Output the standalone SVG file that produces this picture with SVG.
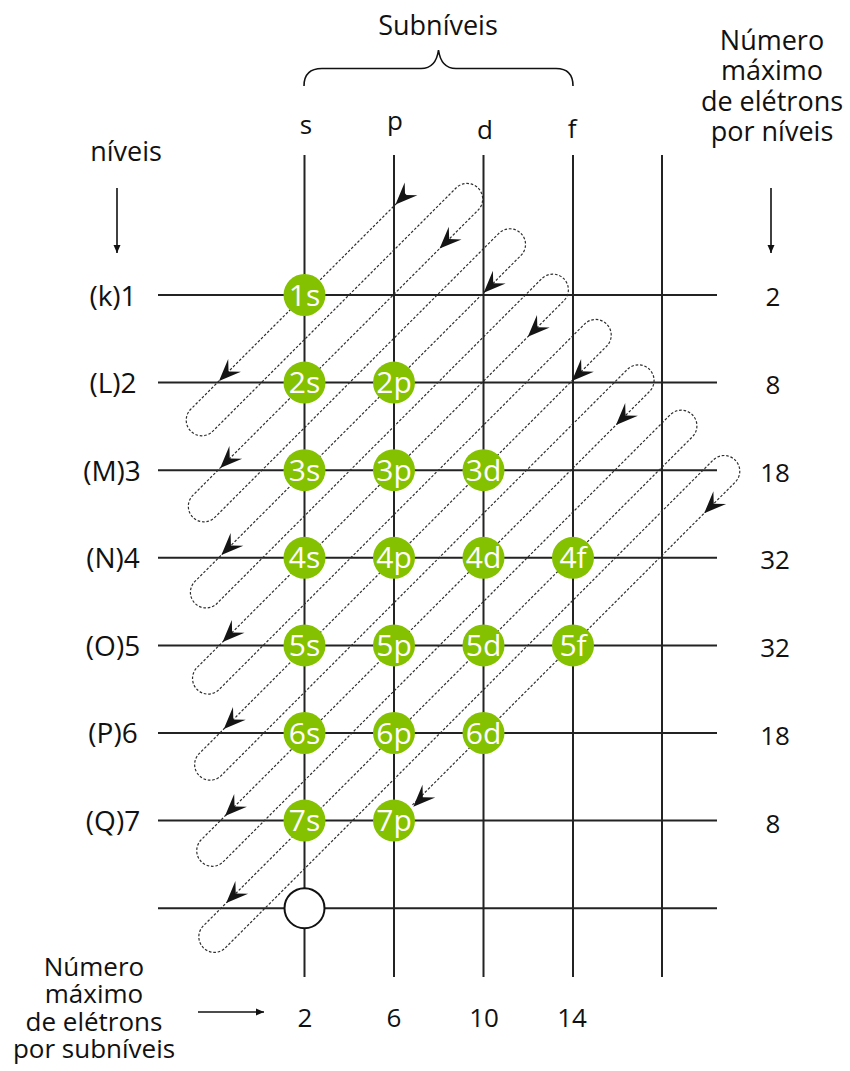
<svg xmlns="http://www.w3.org/2000/svg" width="850" height="1071" viewBox="0 0 850 1071">
<style>
.grid{stroke:#232323;stroke-width:2;fill:none}
.dash{stroke:#2e2e2e;stroke-width:1.2;fill:none;stroke-dasharray:2.6 1.8}
.orb{fill:#84c100}
.ol{font-family:'Open Sans','DejaVu Sans',sans-serif;font-size:30px;fill:#fff;text-anchor:middle}
.t{font-family:'Open Sans','DejaVu Sans',sans-serif;font-size:26px;fill:#111;text-anchor:middle}
.rl{font-size:28px}
.ax{stroke:#111;stroke-width:1.6;fill:none}
</style>
<defs>
<path id="ah" d="M0,0 L-22,-9 L-13.5,0 L-22,9 Z" fill="#151515"/>
<marker id="sm" markerWidth="10" markerHeight="10" refX="8" refY="4" orient="auto" markerUnits="userSpaceOnUse">
<path d="M0,0.5 L8,4 L0,7.5 Z" fill="#111"/>
</marker>
</defs>
<g id="grid">
<line class="grid" x1="158" y1="295" x2="717" y2="295"/>
<line class="grid" x1="158" y1="382.6" x2="717" y2="382.6"/>
<line class="grid" x1="158" y1="470.2" x2="717" y2="470.2"/>
<line class="grid" x1="158" y1="557.8" x2="717" y2="557.8"/>
<line class="grid" x1="158" y1="645.4" x2="717" y2="645.4"/>
<line class="grid" x1="158" y1="733" x2="717" y2="733"/>
<line class="grid" x1="158" y1="820.6" x2="717" y2="820.6"/>
<line class="grid" x1="158" y1="908.2" x2="717" y2="908.2"/>
<line class="grid" x1="304.5" y1="155" x2="304.5" y2="977"/>
<line class="grid" x1="394" y1="155" x2="394" y2="977"/>
<line class="grid" x1="483.5" y1="155" x2="483.5" y2="977"/>
<line class="grid" x1="573" y1="155" x2="573" y2="977"/>
<line class="grid" x1="662" y1="155" x2="662" y2="977"/>
</g>
<g id="connectors">
<path class="dash" d="M406,194 L190,410 A15.6,15.6 0 0 0 212,432 L456,188 A15.6,15.6 0 0 1 478.1,210.1 L192.1,496.1 A15.6,15.6 0 0 0 214.1,518.1 L498.85,233.35 A15.6,15.6 0 0 1 520.95,255.45 L194.2,582.2 A15.6,15.6 0 0 0 216.2,604.2 L541.7,278.7 A15.6,15.6 0 0 1 563.8,300.8 L196.3,668.3 A15.6,15.6 0 0 0 218.3,690.3 L584.55,324.05 A15.6,15.6 0 0 1 606.65,346.15 L198.4,754.4 A15.6,15.6 0 0 0 220.4,776.4 L627.4,369.4 A15.6,15.6 0 0 1 649.5,391.5 L200.5,840.5 A15.6,15.6 0 0 0 222.5,862.5 L670.25,414.75 A15.6,15.6 0 0 1 692.35,436.85 L202.6,926.6 A15.6,15.6 0 0 0 224.6,948.6 L713.1,460.1 A15.6,15.6 0 0 1 735.2,482.2 L412.2,805.2"/>
<use href="#ah" transform="translate(395.5,204.5) rotate(135)"/>
<use href="#ah" transform="translate(439.6,248.6) rotate(135)"/>
<use href="#ah" transform="translate(483.7,292.7) rotate(135)"/>
<use href="#ah" transform="translate(527.8,336.8) rotate(135)"/>
<use href="#ah" transform="translate(571.9,380.9) rotate(135)"/>
<use href="#ah" transform="translate(616,425) rotate(135)"/>
<use href="#ah" transform="translate(704.2,513.2) rotate(135)"/>
<use href="#ah" transform="translate(413.3,806.7) rotate(135)"/>
<use href="#ah" transform="translate(219,381) rotate(135)"/>
<use href="#ah" transform="translate(220.2,468) rotate(135)"/>
<use href="#ah" transform="translate(221.4,555) rotate(135)"/>
<use href="#ah" transform="translate(222.6,642) rotate(135)"/>
<use href="#ah" transform="translate(223.8,729) rotate(135)"/>
<use href="#ah" transform="translate(225,816) rotate(135)"/>
<use href="#ah" transform="translate(226.2,903) rotate(135)"/>
<line class="ax" x1="117" y1="188" x2="117" y2="253" marker-end="url(#sm)"/>
<line class="ax" x1="771" y1="188" x2="771" y2="253" marker-end="url(#sm)"/>
<line class="ax" x1="198" y1="1012" x2="264" y2="1012" marker-end="url(#sm)"/>
<path class="ax" d="M304,86 Q304,68.5 322,68.5 L421,68.5 Q436,68.5 438.5,50 Q441,68.5 456,68.5 L556,68.5 Q573,68.5 573,86"/>
</g>
<g id="n1s"><circle class="orb" cx="304.5" cy="295" r="21"/><text class="ol" x="304.5" y="305.5">1s</text></g>
<g id="n2s"><circle class="orb" cx="304.5" cy="382.6" r="21"/><text class="ol" x="304.5" y="393.1">2s</text></g>
<g id="n2p"><circle class="orb" cx="394" cy="382.6" r="21"/><text class="ol" x="394" y="393.1">2p</text></g>
<g id="n3s"><circle class="orb" cx="304.5" cy="470.2" r="21"/><text class="ol" x="304.5" y="480.7">3s</text></g>
<g id="n3p"><circle class="orb" cx="394" cy="470.2" r="21"/><text class="ol" x="394" y="480.7">3p</text></g>
<g id="n3d"><circle class="orb" cx="483.5" cy="470.2" r="21"/><text class="ol" x="483.5" y="480.7">3d</text></g>
<g id="n4s"><circle class="orb" cx="304.5" cy="557.8" r="21"/><text class="ol" x="304.5" y="568.3">4s</text></g>
<g id="n4p"><circle class="orb" cx="394" cy="557.8" r="21"/><text class="ol" x="394" y="568.3">4p</text></g>
<g id="n4d"><circle class="orb" cx="483.5" cy="557.8" r="21"/><text class="ol" x="483.5" y="568.3">4d</text></g>
<g id="n4f"><circle class="orb" cx="573" cy="557.8" r="21"/><text class="ol" x="573" y="568.3">4f</text></g>
<g id="n5s"><circle class="orb" cx="304.5" cy="645.4" r="21"/><text class="ol" x="304.5" y="655.9">5s</text></g>
<g id="n5p"><circle class="orb" cx="394" cy="645.4" r="21"/><text class="ol" x="394" y="655.9">5p</text></g>
<g id="n5d"><circle class="orb" cx="483.5" cy="645.4" r="21"/><text class="ol" x="483.5" y="655.9">5d</text></g>
<g id="n5f"><circle class="orb" cx="573" cy="645.4" r="21"/><text class="ol" x="573" y="655.9">5f</text></g>
<g id="n6s"><circle class="orb" cx="304.5" cy="733" r="21"/><text class="ol" x="304.5" y="743.5">6s</text></g>
<g id="n6p"><circle class="orb" cx="394" cy="733" r="21"/><text class="ol" x="394" y="743.5">6p</text></g>
<g id="n6d"><circle class="orb" cx="483.5" cy="733" r="21"/><text class="ol" x="483.5" y="743.5">6d</text></g>
<g id="n7s"><circle class="orb" cx="304.5" cy="820.6" r="21"/><text class="ol" x="304.5" y="831.1">7s</text></g>
<g id="n7p"><circle class="orb" cx="394" cy="820.6" r="21"/><text class="ol" x="394" y="831.1">7p</text></g>
<g id="n8s"><circle cx="304.5" cy="908.2" r="20" fill="#fff" stroke="#111" stroke-width="2"/></g>
<g id="labels">
<text class="t" x="438" y="35" style="font-size:27px">Subníveis</text>
<text class="t" x="306" y="134">s</text>
<text class="t" x="395" y="130">p</text>
<text class="t" x="485" y="139">d</text>
<text class="t" x="572" y="138">f</text>
<text class="t" x="126" y="161" style="font-size:27px">níveis</text>
<text class="t" x="772" y="50" style="font-size:27px">Número</text>
<text class="t" x="772" y="80" style="font-size:27px">máximo</text>
<text class="t" x="772" y="111" style="font-size:27px">de elétrons</text>
<text class="t" x="772" y="141" style="font-size:27px">por níveis</text>
<text class="t rl" x="113" y="306">(k)1</text>
<text class="t rl" x="113" y="393">(L)2</text>
<text class="t rl" x="112" y="481">(M)3</text>
<text class="t rl" x="113" y="568">(N)4</text>
<text class="t rl" x="113" y="656">(O)5</text>
<text class="t rl" x="113" y="743">(P)6</text>
<text class="t rl" x="113" y="831">(Q)7</text>
<text class="t" x="773" y="306">2</text>
<text class="t" x="773" y="394">8</text>
<text class="t" x="775" y="482">18</text>
<text class="t" x="775" y="569">32</text>
<text class="t" x="775" y="657">32</text>
<text class="t" x="775" y="745">18</text>
<text class="t" x="773" y="833">8</text>
<text class="t" x="305" y="1027">2</text>
<text class="t" x="394" y="1027">6</text>
<text class="t" x="484" y="1027">10</text>
<text class="t" x="572" y="1027">14</text>
<text class="t" x="94" y="976">Número</text>
<text class="t" x="94" y="1003">máximo</text>
<text class="t" x="94" y="1031">de elétrons</text>
<text class="t" x="94" y="1058">por subníveis</text>
</g>
</svg>
